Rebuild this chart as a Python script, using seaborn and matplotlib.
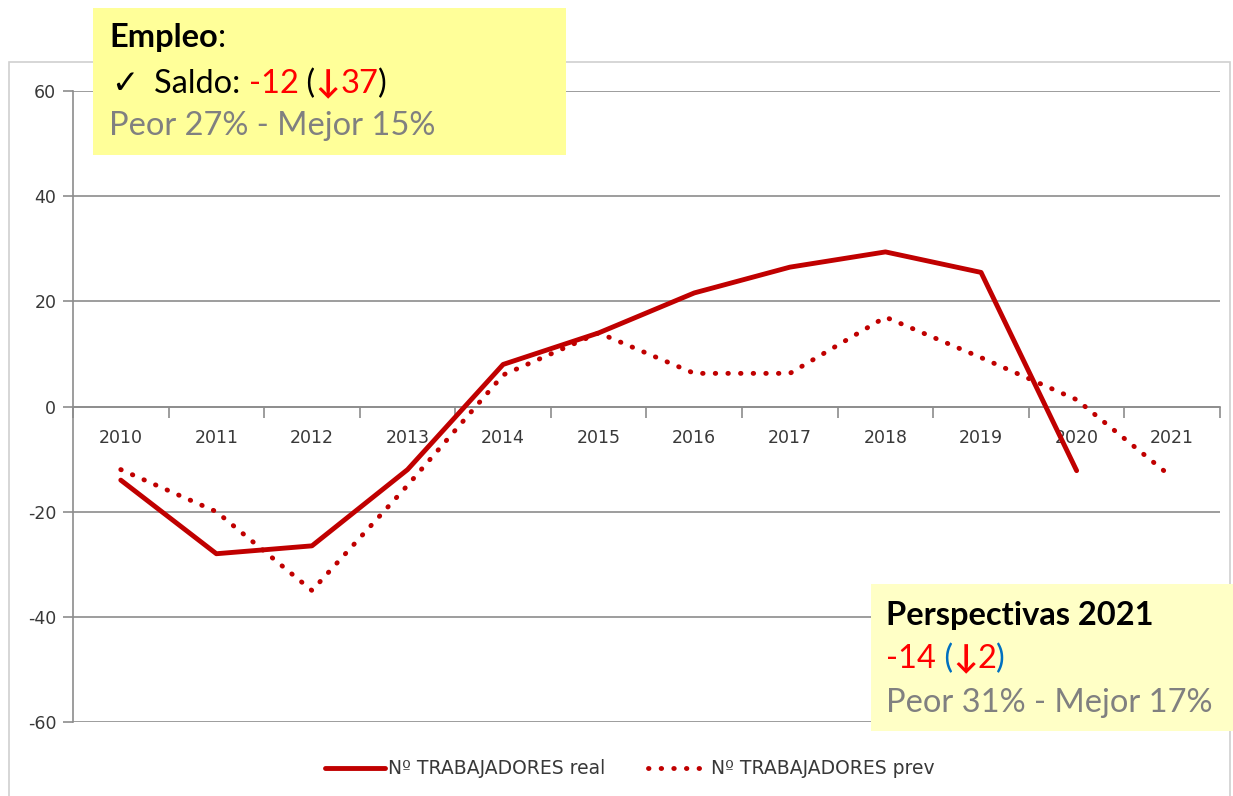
import numpy as np
import pandas as pd
import matplotlib.pyplot as plt
import seaborn as sns
from matplotlib.patches import Rectangle
from matplotlib.lines import Line2D
from matplotlib.ticker import FuncFormatter

# data
years = [str(y) for y in range(2010, 2022)]
real = [-14, -28, -26.5, -12, 8, 14, 21.6, 26.5, 29.4, 25.5, -12.2, np.nan]
prev = [-12, -20, -35, -15, 6, 14, 6.3, 6.3, 17, 9.3, 1.3, -13.5]
y_ticks = [-60, -40, -20, 0, 20, 40, 60]
legend_labels = ["Nº TRABAJADORES real", "Nº TRABAJADORES prev"]

df = pd.DataFrame({"year": years, "real": real, "prev": prev})

RED = "#C00000"
GRID = "#8c8c8c"
TXT = "#383838"
W, H = 1233, 796

sns.set_style("white")
plt.rcParams["font.family"] = ["DejaVu Sans"]
BOX_FONT = ["Lato", "DejaVu Sans"]

fig = plt.figure(figsize=(W / 100, H / 100), dpi=100)
ax = fig.add_axes([73 / W, (H - 722) / H, (1220 - 73) / W, (722 - 91) / H])
ax.patch.set_alpha(0)

sns.lineplot(data=df, x="year", y="real", ax=ax, color=RED, lw=3.5, zorder=4)
sns.lineplot(data=df, x="year", y="prev", ax=ax, color=RED, lw=3.5,
             linestyle=(0, (0.1, 2.5)), dash_capstyle="round", zorder=4)

ax.set_xlim(-0.5, len(years) - 0.5)
ax.set_ylim(-60, 60)
ax.set_yticks(y_ticks)
ax.yaxis.set_major_formatter(FuncFormatter(lambda v, p: f"{v:.0f}"))
ax.set_xlabel("")
ax.set_ylabel("")
ax.yaxis.grid(True, color=GRID, lw=1.2)
ax.xaxis.grid(False)
for s in ["top", "right"]:
    ax.spines[s].set_visible(False)
ax.spines["left"].set_color(GRID)
ax.spines["left"].set_linewidth(1.2)
ax.spines["bottom"].set_position(("data", 0))
ax.spines["bottom"].set_color(GRID)
ax.spines["bottom"].set_linewidth(1.2)

ax.set_xticks(np.arange(-0.5, len(years), 1), minor=True)
ax.tick_params(axis="x", which="major", length=0, pad=16, labelsize=12.5, labelcolor=TXT)
ax.tick_params(axis="x", which="minor", bottom=True, length=8, width=1.2, color=GRID)
ax.tick_params(axis="y", left=True, length=7, width=1.2, color=GRID, pad=5,
               labelsize=12.5, labelcolor=TXT)

# legend
handles = [Line2D([], [], color=RED, lw=3.5),
           Line2D([], [], color=RED, lw=3.5, linestyle=(0, (0.1, 2.5)), dash_capstyle="round")]
fig.legend(handles, legend_labels, loc="center", bbox_to_anchor=(630 / W, 1 - 769 / H),
           ncol=2, frameon=False, fontsize=13.5, labelcolor=TXT, handlelength=3.2,
           handletextpad=0.15, columnspacing=2.3)

# outer chart frame
fig.patches.append(Rectangle((9 / W, -0.01), (1230 - 9) / W, 1.01 - 62 / H, fill=False,
                             edgecolor="#d0d0d0", lw=1.2, transform=fig.transFigure, zorder=1))

# annotation boxes
fig.patches.append(Rectangle((93 / W, 1 - 155 / H), (566 - 93) / W, (155 - 8) / H,
                             facecolor="#FFFF99", edgecolor="none",
                             transform=fig.transFigure, zorder=5))
fig.patches.append(Rectangle((871 / W, 1 - 731 / H), (1233 - 871) / W, (731 - 584) / H,
                             facecolor="#FFFFC6", edgecolor="none",
                             transform=fig.transFigure, zorder=5))

renderer = fig.canvas.get_renderer()
FS = 23.5


def rich_line(x, y, pieces):
    for s, color, weight in pieces:
        t = fig.text(x / W, 1 - y / H, s, color=color, fontweight=weight, fontsize=FS,
                     family=BOX_FONT, va="baseline", ha="left", zorder=6)
        x += t.get_window_extent(renderer=renderer).width


rich_line(109, 47, [("Empleo", "black", "bold"), (":", "black", "normal")])
rich_line(111, 93, [("✓", "black", "normal")])
rich_line(154, 93, [("Saldo: ", "black", "normal"), ("-12", "#FF0000", "normal"),
                    (" (", "black", "normal"), ("↓", "#FF0000", "bold"),
                    ("37", "#FF0000", "normal"), (")", "black", "normal")])
rich_line(109, 135, [("Peor 27% - Mejor 15%", "#808080", "normal")])

rich_line(886, 625, [("Perspectivas 2021", "black", "bold")])
rich_line(886, 668, [("-14", "#FF0000", "normal"), (" (", "#0070C0", "normal"),
                     ("↓", "#FF0000", "bold"), ("2", "#FF0000", "normal"),
                     (")", "#0070C0", "normal")])
rich_line(886, 712, [("Peor 31% - Mejor 17%", "#808080", "normal")])

fig.savefig("out.png", dpi=100)
